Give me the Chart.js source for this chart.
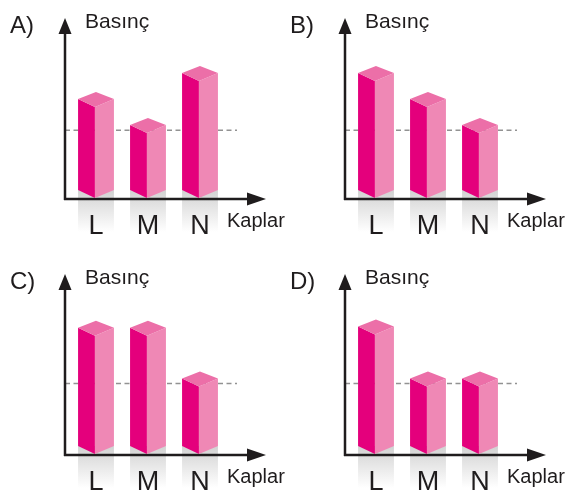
<!DOCTYPE html>
<html>
<head>
<meta charset="utf-8">
<script src="https://cdn.jsdelivr.net/npm/chart.js@4"></script>
<style>
  html, body { margin: 0; padding: 0; background: #fff; }
  body { width: 568px; height: 496px; position: relative; overflow: hidden; }
  canvas { position: absolute; }
</style>
</head>
<body>
<canvas id="chartA" width="288" height="240" style="left:0;top:0"></canvas>
<canvas id="chartB" width="288" height="240" style="left:280px;top:0"></canvas>
<canvas id="chartC" width="288" height="240" style="left:0;top:256px"></canvas>
<canvas id="chartD" width="288" height="240" style="left:280px;top:256px"></canvas>
<script>
// ====================================================================
// DATA
// ====================================================================
const categories = ['L', 'M', 'N'];
const panelNames = ['A)', 'B)', 'C)', 'D)'];
const valuesA = [3.5, 2.5, 4.5];
const valuesB = [4.5, 3.5, 2.5];
const valuesC = [4.55, 4.55, 2.6];
const valuesD = [4.6, 2.6, 2.6];
const refLevels = [2.3, 2.3, 2.4, 2.4];   // dashed line
const yTitle = 'Basınç';
const xTitle = 'Kaplar';

const FONT = '"Liberation Sans", Arial, sans-serif';
const INK = '#1f1c1d';

// draws the 3d boxes, shadows, dashed line, arrows and texts
const prismPlugin = {
  id: 'prism3d',
  beforeDraw(chart) {
    // faded shadow under each bar (behind the tick labels)
    const ctx = chart.ctx;
    const bars = chart.getDatasetMeta(0).data;
    ctx.save();
    bars.forEach(bar => {
      const p = bar.getProps(['x', 'base', 'width'], true);
      const g = ctx.createLinearGradient(0, p.base, 0, p.base + 42);
      g.addColorStop(0, 'rgba(210,210,210,1)');
      g.addColorStop(1, 'rgba(255,255,255,1)');
      ctx.fillStyle = g;
      ctx.fillRect(p.x - p.width / 2, p.base, p.width, 42);
    });
    ctx.restore();
  },
  afterDatasetsDraw(chart, args, opts) {
    const ctx = chart.ctx;
    const area = chart.chartArea;
    const bars = chart.getDatasetMeta(0).data;
    const axisX = area.left - 5;
    const axisY = area.bottom + 9;

    ctx.save();

    // dashed reference level
    const refY = chart.scales.y.getPixelForValue(opts.ref);
    ctx.strokeStyle = '#929292';
    ctx.lineWidth = 1.5;
    ctx.setLineDash([5, 3.5]);
    ctx.beginPath();
    ctx.moveTo(axisX, refY);
    ctx.lineTo(area.left + 167, refY);
    ctx.stroke();
    ctx.setLineDash([]);

    // axes with arrows
    ctx.strokeStyle = INK;
    ctx.fillStyle = INK;
    ctx.lineWidth = 2.5;
    ctx.beginPath();
    ctx.moveTo(axisX, axisY + 1);
    ctx.lineTo(axisX, area.top + 8);
    ctx.moveTo(axisX - 1, axisY);
    ctx.lineTo(area.left + 185, axisY);
    ctx.stroke();
    ctx.beginPath();
    ctx.moveTo(axisX, area.top - 3);
    ctx.lineTo(axisX - 6.5, area.top + 13);
    ctx.lineTo(axisX + 6.5, area.top + 13);
    ctx.closePath();
    ctx.fill();
    ctx.beginPath();
    ctx.moveTo(area.left + 196, axisY);
    ctx.lineTo(area.left + 177, axisY - 6.5);
    ctx.lineTo(area.left + 177, axisY + 6.5);
    ctx.closePath();
    ctx.fill();

    // boxes
    bars.forEach(bar => {
      const p = bar.getProps(['x', 'y', 'base', 'width'], true);
      const xl = p.x - p.width / 2;
      const xr = p.x + p.width / 2;
      const xf = xl + p.width * 0.47;
      const dFront = 8, dBack = 7;

      ctx.fillStyle = '#e4007c';
      ctx.beginPath();
      ctx.moveTo(xl, p.y);
      ctx.lineTo(xf, p.y + dFront);
      ctx.lineTo(xf, p.base + dFront);
      ctx.lineTo(xl, p.base);
      ctx.closePath();
      ctx.fill();

      ctx.fillStyle = '#ef88b5';
      ctx.beginPath();
      ctx.moveTo(xf, p.y + dFront);
      ctx.lineTo(xr, p.y);
      ctx.lineTo(xr, p.base);
      ctx.lineTo(xf, p.base + dFront);
      ctx.closePath();
      ctx.fill();

      ctx.fillStyle = '#ec6fa8';
      ctx.beginPath();
      ctx.moveTo(xl, p.y);
      ctx.lineTo(xf + 1, p.y - dBack);
      ctx.lineTo(xr, p.y);
      ctx.lineTo(xf, p.y + dFront);
      ctx.closePath();
      ctx.fill();
    });

    // texts
    ctx.fillStyle = INK;
    ctx.textBaseline = 'alphabetic';
    ctx.textAlign = 'left';
    ctx.font = '24px ' + FONT;
    ctx.fillText(opts.name, area.left - 60, area.top + 12);
    ctx.font = '21px ' + FONT;
    ctx.fillText(yTitle, area.left + 15, area.top + 7);
    ctx.font = '20px ' + FONT;
    ctx.fillText(xTitle, area.left + 157, area.bottom + 37);

    ctx.restore();
  }
};

function createPanel(canvasId, values, name, ref) {
  const canvas = document.getElementById(canvasId);
  if (!canvas) return null;
  return new Chart(canvas.getContext('2d'), {
    type: 'bar',
    data: {
      labels: categories,
      datasets: [{
        data: values,
        backgroundColor: 'rgba(0,0,0,0)',
        borderWidth: 0,
        categoryPercentage: 1,
        barPercentage: 0.69
      }]
    },
    options: {
      responsive: false,
      animation: false,
      devicePixelRatio: 1,
      layout: { padding: { left: 70, right: 62, top: 21, bottom: 1 } },
      scales: {
        x: {
          grid: { display: false, drawTicks: false },
          border: { display: false },
          ticks: { color: INK, padding: 20, font: { size: 27, family: FONT } },
          afterFit: scale => { scale.height = 49; }
        },
        y: { display: false, min: 0, max: 6.5 }
      },
      plugins: {
        legend: { display: false },
        tooltip: { enabled: false },
        prism3d: { name: name, ref: ref }
      }
    },
    plugins: [prismPlugin]
  });
}

createPanel('chartA', valuesA, panelNames[0], refLevels[0]);
createPanel('chartB', valuesB, panelNames[1], refLevels[1]);
createPanel('chartC', valuesC, panelNames[2], refLevels[2]);
createPanel('chartD', valuesD, panelNames[3], refLevels[3]);
</script>
</body>
</html>
